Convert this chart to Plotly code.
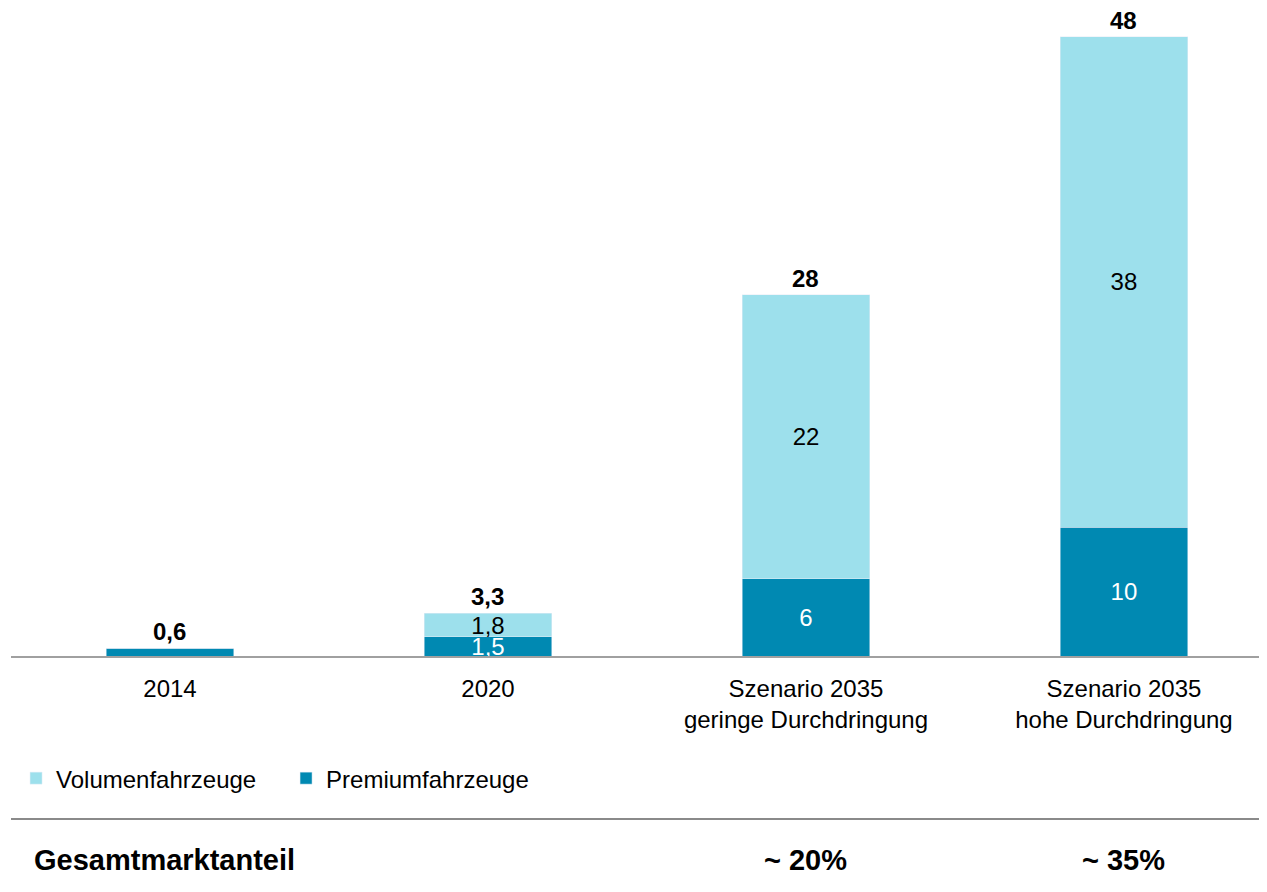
import plotly.graph_objects as go

categories = ["2014", "2020", "Szenario 2035<br>geringe Durchdringung", "Szenario 2035<br>hohe Durchdringung"]
premium = [0.6, 1.5, 6, 10]
volumen = [0, 1.8, 22, 38]
totals = [0.6, 3.3, 28, 48]
premium_labels = ["", "1,5", "6", "10"]
volumen_labels = ["", "1,8", "22", "38"]
total_labels = ["0,6", "3,3", "28", "48"]
share_labels = ["~ 20%", "~ 35%"]
share_index = [2, 3]

FONT = "Liberation Sans, Arial, sans-serif"
LIGHT = "#9DE0EC"
DARK = "#0089B2"
FS = 24

fig = go.Figure()
fig.add_trace(go.Bar(
    x=categories, y=premium, name="Premiumfahrzeuge", marker_color=DARK,
    text=premium_labels, textposition="inside", insidetextanchor="middle",
    constraintext="none", textangle=0,
    textfont=dict(color="white", size=FS, family=FONT),
    width=0.4,
))
fig.add_trace(go.Bar(
    x=categories, y=volumen, name="Volumenfahrzeuge", marker_color=LIGHT,
    text=volumen_labels, textposition="inside", insidetextanchor="middle",
    constraintext="none", textangle=0,
    textfont=dict(color="black", size=FS, family=FONT),
    width=0.4,
))

for i, (t, lab) in enumerate(zip(totals, total_labels)):
    fig.add_annotation(x=i, y=t, text="<b>%s</b>" % lab, showarrow=False,
                       yanchor="bottom", yshift=1,
                       font=dict(size=FS, color="black", family=FONT))

# separator line
fig.add_shape(type="line", xref="paper", yref="paper", x0=0, x1=1,
              y0=-0.2527, y1=-0.2527, line=dict(color="#8a8a8a", width=2))

fig.add_annotation(x=0.017, y=-0.316, xref="paper", yref="paper",
                   text="<b>Gesamtmarktanteil</b>", showarrow=False,
                   xanchor="left", yanchor="middle",
                   font=dict(size=29, color="black", family=FONT))
for i, lab in zip(share_index, share_labels):
    fig.add_annotation(x=i, y=-0.316, xref="x", yref="paper",
                       text="<b>%s</b>" % lab, showarrow=False,
                       xanchor="center", yanchor="middle",
                       font=dict(size=29, color="black", family=FONT))

fig.update_layout(
    barmode="stack",
    width=1267, height=892,
    margin=dict(l=3, r=0, t=3, b=244),
    plot_bgcolor="white", paper_bgcolor="white",
    font=dict(family=FONT, size=FS, color="black"),
    showlegend=True,
    legend=dict(orientation="h", x=0.004, y=-0.19, xanchor="left", yanchor="middle",
                traceorder="reversed", font=dict(size=FS, family=FONT),
                itemwidth=30, entrywidth=225, bgcolor="rgba(0,0,0,0)"),
    uniformtext=dict(mode=False),
)
fig.update_xaxes(type="category", range=[-0.5, 3.475], showline=True, linecolor="#a0a0a0",
                 linewidth=2, ticks="", showgrid=False, zeroline=False,
                 ticklabelstandoff=10,
                 tickfont=dict(size=FS, family=FONT, color="black"))
fig.update_yaxes(range=[0, 50], visible=False, showgrid=False)

fig.write_html("out.html")
